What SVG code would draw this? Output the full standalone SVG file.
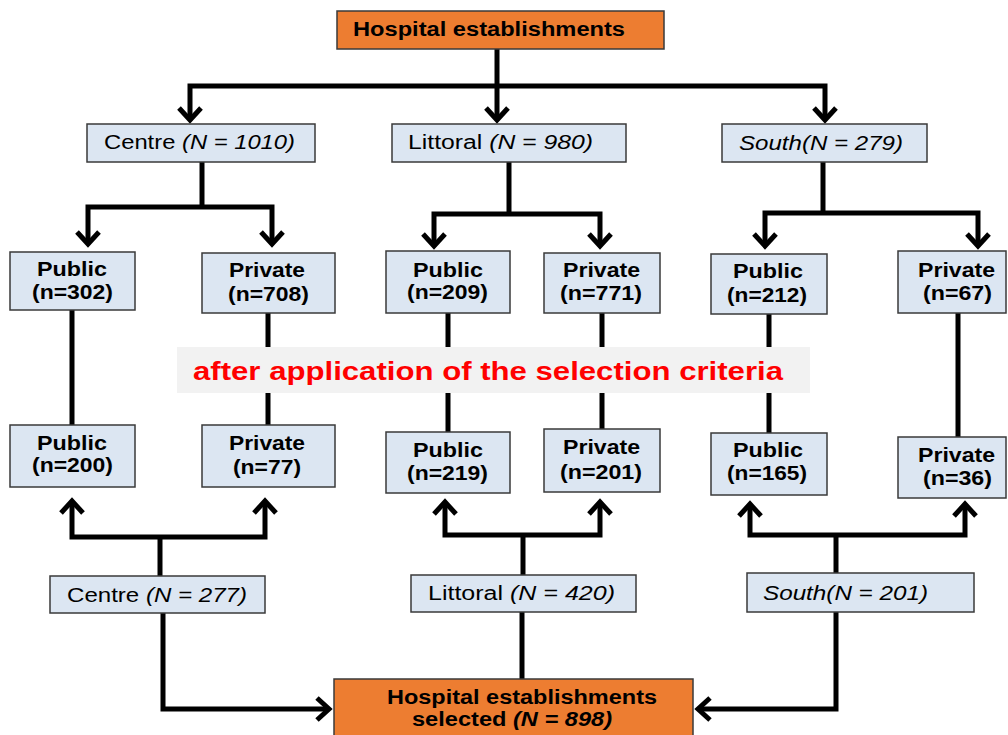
<svg xmlns="http://www.w3.org/2000/svg" width="1008" height="735" viewBox="0 0 1008 735">
<style>
.bx{fill:#DCE6F2;stroke:#3a3a3a;stroke-width:1.5}
.or{fill:#ED7D31;stroke:#3a3a3a;stroke-width:1.5}
.ln{fill:none;stroke:#000;stroke-width:5;stroke-linejoin:miter}
.b{font-family:"Liberation Sans",Arial,sans-serif;font-weight:bold;font-size:21px;fill:#000}
.r{font-family:"Liberation Sans",Arial,sans-serif;font-size:20px;fill:#000}
.t{font-family:"Liberation Sans",Arial,sans-serif;font-weight:bold;font-size:20px;fill:#000}
.i{font-style:italic}
.red{font-family:"Liberation Sans",Arial,sans-serif;font-weight:bold;font-size:25px;fill:#FF0000}
</style>
<defs>
<marker id="ah" markerUnits="userSpaceOnUse" markerWidth="30" markerHeight="30" refX="0" refY="0" orient="auto-start-reverse" style="overflow:visible">
<path d="M-12,-11 L0,0 L-12,11" fill="none" stroke="#000" stroke-width="5"/>
</marker>
</defs>
<rect width="1008" height="735" fill="#fff"/>
<g id="connectors">
<path class="ln" d="M497,49 V120" marker-end="url(#ah)"/>
<path class="ln" d="M190,120 V86 H825 V120" marker-start="url(#ah)" marker-end="url(#ah)"/>
<path class="ln" d="M202,162 V207"/>
<path class="ln" d="M88,244 V207 H272 V244" marker-start="url(#ah)" marker-end="url(#ah)"/>
<path class="ln" d="M509,162 V214"/>
<path class="ln" d="M434,246 V214 H600 V246" marker-start="url(#ah)" marker-end="url(#ah)"/>
<path class="ln" d="M823,162 V213"/>
<path class="ln" d="M765,246 V213 H978 V246" marker-start="url(#ah)" marker-end="url(#ah)"/>
<path class="ln" d="M72,310 V425 M268,313 V425 M448,313 V432 M602,313 V429 M769,314 V433 M958,313 V437"/>
<path class="ln" d="M72,501 V537 H265 V501" marker-start="url(#ah)" marker-end="url(#ah)"/>
<path class="ln" d="M160,537 V576"/>
<path class="ln" d="M445,502 V535 H600 V502" marker-start="url(#ah)" marker-end="url(#ah)"/>
<path class="ln" d="M523,535 V575"/>
<path class="ln" d="M750,504 V535 H965 V504" marker-start="url(#ah)" marker-end="url(#ah)"/>
<path class="ln" d="M836,535 V573"/>
<path class="ln" d="M163,613 V709 H329" marker-end="url(#ah)"/>
<path class="ln" d="M522,612 V679"/>
<path class="ln" d="M836,612 V709 H698" marker-end="url(#ah)"/>
</g>
<g id="n-top"><rect class="or" x="337" y="11" width="327" height="38"/><text class="t" x="353" y="36" textLength="272" lengthAdjust="spacingAndGlyphs">Hospital establishments</text></g>
<g id="n-centre1"><rect class="bx" x="87" y="124" width="228" height="38"/><text class="r" x="104" y="149" textLength="191" lengthAdjust="spacingAndGlyphs">Centre <tspan class="i">(N = 1010)</tspan></text></g>
<g id="n-littoral1"><rect class="bx" x="392" y="124" width="234" height="38"/><text class="r" x="408" y="149" textLength="185" lengthAdjust="spacingAndGlyphs">Littoral  <tspan class="i">(N = 980)</tspan></text></g>
<g id="n-south1"><rect class="bx" x="722" y="124" width="205" height="38"/><text class="r i" x="739" y="150" textLength="164" lengthAdjust="spacingAndGlyphs">South(N = 279)</text></g>
<g id="n-pub302"><rect class="bx" x="10" y="252" width="125" height="58"/><text class="b" x="37" y="276" textLength="70" lengthAdjust="spacingAndGlyphs">Public</text><text class="b" x="32" y="299" textLength="81" lengthAdjust="spacingAndGlyphs">(n=302)</text></g>
<g id="n-priv708"><rect class="bx" x="202" y="253" width="133" height="60"/><text class="b" x="229" y="277" textLength="76" lengthAdjust="spacingAndGlyphs">Private</text><text class="b" x="228" y="301" textLength="81" lengthAdjust="spacingAndGlyphs">(n=708)</text></g>
<g id="n-pub209"><rect class="bx" x="386" y="251" width="124" height="62"/><text class="b" x="413" y="277" textLength="70" lengthAdjust="spacingAndGlyphs">Public</text><text class="b" x="407" y="299" textLength="81" lengthAdjust="spacingAndGlyphs">(n=209)</text></g>
<g id="n-priv771"><rect class="bx" x="544" y="253" width="116" height="60"/><text class="b" x="563" y="277" textLength="77" lengthAdjust="spacingAndGlyphs">Private</text><text class="b" x="560" y="300" textLength="82" lengthAdjust="spacingAndGlyphs">(n=771)</text></g>
<g id="n-pub212"><rect class="bx" x="711" y="254" width="116" height="60"/><text class="b" x="733" y="278" textLength="70" lengthAdjust="spacingAndGlyphs">Public</text><text class="b" x="727" y="302" textLength="80" lengthAdjust="spacingAndGlyphs">(n=212)</text></g>
<g id="n-priv67"><rect class="bx" x="898" y="251" width="108" height="62"/><text class="b" x="918" y="277" textLength="77" lengthAdjust="spacingAndGlyphs">Private</text><text class="b" x="923" y="300" textLength="69" lengthAdjust="spacingAndGlyphs">(n=67)</text></g>
<g id="banner"><rect x="177" y="347" width="633" height="46" fill="#F2F2F2"/><text class="red" x="193" y="380" textLength="590" lengthAdjust="spacingAndGlyphs">after application of the selection criteria</text></g>
<g id="n-pub200"><rect class="bx" x="10" y="425" width="125" height="62"/><text class="b" x="37" y="450" textLength="70" lengthAdjust="spacingAndGlyphs">Public</text><text class="b" x="32" y="472" textLength="81" lengthAdjust="spacingAndGlyphs">(n=200)</text></g>
<g id="n-priv77"><rect class="bx" x="202" y="425" width="133" height="62"/><text class="b" x="229" y="450" textLength="76" lengthAdjust="spacingAndGlyphs">Private</text><text class="b" x="233" y="474" textLength="68" lengthAdjust="spacingAndGlyphs">(n=77)</text></g>
<g id="n-pub219"><rect class="bx" x="386" y="432" width="124" height="61"/><text class="b" x="413" y="457" textLength="70" lengthAdjust="spacingAndGlyphs">Public</text><text class="b" x="407" y="480" textLength="81" lengthAdjust="spacingAndGlyphs">(n=219)</text></g>
<g id="n-priv201"><rect class="bx" x="544" y="429" width="116" height="63"/><text class="b" x="563" y="454" textLength="77" lengthAdjust="spacingAndGlyphs">Private</text><text class="b" x="560" y="479" textLength="82" lengthAdjust="spacingAndGlyphs">(n=201)</text></g>
<g id="n-pub165"><rect class="bx" x="711" y="433" width="116" height="62"/><text class="b" x="733" y="457" textLength="70" lengthAdjust="spacingAndGlyphs">Public</text><text class="b" x="727" y="480" textLength="80" lengthAdjust="spacingAndGlyphs">(n=165)</text></g>
<g id="n-priv36"><rect class="bx" x="898" y="437" width="108" height="61"/><text class="b" x="918" y="462" textLength="77" lengthAdjust="spacingAndGlyphs">Private</text><text class="b" x="923" y="485" textLength="69" lengthAdjust="spacingAndGlyphs">(n=36)</text></g>
<g id="n-centre2"><rect class="bx" x="50" y="576" width="215" height="37"/><text class="r" x="67" y="602" textLength="180" lengthAdjust="spacingAndGlyphs">Centre <tspan class="i">(N = 277)</tspan></text></g>
<g id="n-littoral2"><rect class="bx" x="411" y="575" width="225" height="37"/><text class="r" x="428" y="600" textLength="187" lengthAdjust="spacingAndGlyphs">Littoral  <tspan class="i">(N = 420)</tspan></text></g>
<g id="n-south2"><rect class="bx" x="747" y="573" width="227" height="39"/><text class="r i" x="763" y="600" textLength="165" lengthAdjust="spacingAndGlyphs">South(N = 201)</text></g>
<g id="n-selected"><rect class="or" x="334" y="679" width="359" height="62"/><text class="t" x="387" y="704" textLength="270" lengthAdjust="spacingAndGlyphs">Hospital establishments</text><text class="t" x="412" y="726" textLength="200" lengthAdjust="spacingAndGlyphs">selected <tspan class="i">(N = 898)</tspan></text></g>
</svg>
